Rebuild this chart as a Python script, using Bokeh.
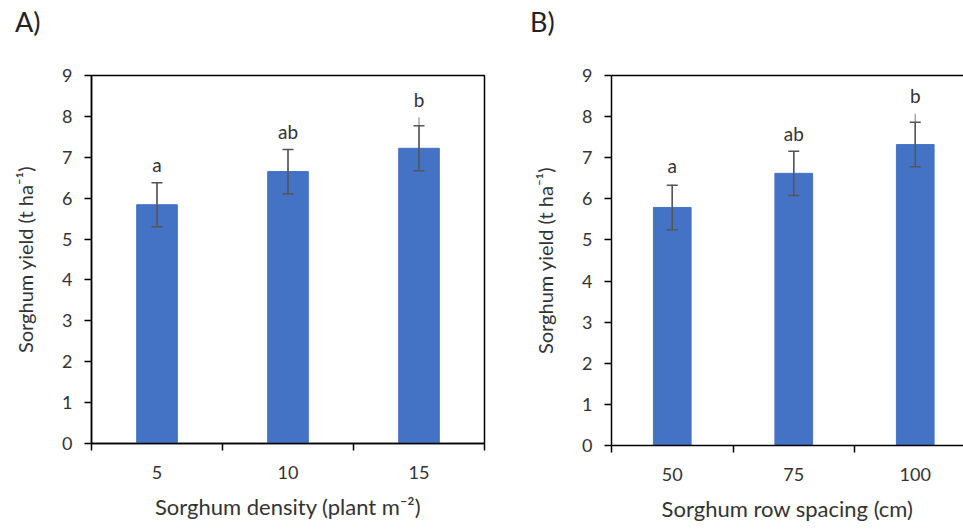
from bokeh.plotting import figure
from bokeh.models import (Range1d, FixedTicker, LinearAxis, Div, Whisker,
                          ColumnDataSource, TeeHead)
from bokeh.layouts import row, column
from bokeh.core.properties import value
from bokeh.embed import file_html
from bokeh.resources import INLINE

# ---- data ----
density_cats = ["5", "10", "15"]
density_yield = [5.84, 6.65, 7.22]
density_se = [0.54, 0.54, 0.55]
density_stem_top = [6.38, 7.19, 7.97]

spacing_cats = ["50", "75", "100"]
spacing_yield = [5.79, 6.62, 7.32]
spacing_se = [0.54, 0.54, 0.54]
spacing_stem_top = [6.35, 7.15, 8.07]

letters = ["a", "ab", "b"]
y_ticks = [0, 1, 2, 3, 4, 5, 6, 7, 8, 9]

FONT = "Lato"
TXT = "#333333"
BAR = "#4472C4"
LETTER_GAP = 0.45  # gap between stem top and letter, in axis units
HEAD_H = 44


def panel(cats, means, ses, stems, xlabel, tag, width, bl, br, bb, xmax, outline, tag_pad):
    n = len(cats)
    xs = [i + 0.5 for i in range(n)]
    src = ColumnDataSource(dict(
        x=xs, top=means,
        upper=[m + s for m, s in zip(means, ses)],
        lower=[m - s for m, s in zip(means, ses)],
        stem=stems, ly=[s + LETTER_GAP for s in stems], letter=letters))
    p = figure(width=width, height=529 - HEAD_H, output_backend="svg",
               toolbar_location=None,
               x_range=Range1d(0, xmax), y_range=Range1d(0, 9),
               min_border_left=bl, min_border_right=br, min_border_top=75 - HEAD_H,
               min_border_bottom=bb)
    p.xgrid.visible = False
    p.ygrid.visible = False
    p.background_fill_color = "white"
    p.border_fill_color = "white"
    xa = p.below[0]
    ya = p.left[0]
    if outline:
        p.outline_line_color = "black"
        p.outline_line_width = 1.5
    else:
        p.outline_line_color = None
        top = LinearAxis(ticker=FixedTicker(ticks=[]), major_label_text_font_size="0px",
                         axis_line_color="black", axis_line_width=1.5,
                         major_tick_line_color=None, minor_tick_line_color=None)
        p.add_layout(top, "above")

    p.vbar(x="x", top="top", width=0.31, source=src, fill_color=BAR, line_color=BAR)
    p.segment(x0="x", y0="top", x1="x", y1="stem", source=src,
              line_color="#a6a6a6", line_width=1.5)
    w = Whisker(source=src, base="x", upper="upper", lower="lower",
                line_color="#555555", line_width=1.5, level="overlay",
                upper_head=TeeHead(size=11, line_color="#555555", line_width=1.5),
                lower_head=TeeHead(size=11, line_color="#555555", line_width=1.5))
    p.add_layout(w)
    p.text(x="x", y="ly", text="letter", source=src, text_align="center",
           text_baseline="alphabetic", text_font=value(FONT),
           text_font_size="19px", text_color=TXT)

    xa.ticker = FixedTicker(ticks=xs, minor_ticks=list(range(n + 1)))
    xa.major_label_overrides = {x: c for x, c in zip(xs, cats)}
    xa.major_tick_line_color = None
    xa.major_tick_out = 0
    xa.major_tick_in = 0
    xa.minor_tick_line_color = "black"
    xa.minor_tick_line_width = 1.5
    xa.minor_tick_out = 7
    xa.minor_tick_in = 0
    xa.axis_line_color = "black"
    xa.axis_line_width = 1.5
    xa.major_label_standoff = 15
    xa.major_label_text_font = FONT
    xa.major_label_text_font_size = "18px"
    xa.major_label_text_color = TXT
    xa.axis_label = xlabel
    xa.axis_label_standoff = 11
    xa.axis_label_text_font = FONT
    xa.axis_label_text_font_size = "22px"
    xa.axis_label_text_font_style = "normal"
    xa.axis_label_text_color = TXT

    ya.ticker = FixedTicker(ticks=y_ticks)
    ya.major_tick_out = 7
    ya.major_tick_in = 0
    ya.major_tick_line_color = "black"
    ya.major_tick_line_width = 1.5
    ya.minor_tick_line_color = None
    ya.axis_line_color = "black"
    ya.axis_line_width = 1.5
    ya.major_label_standoff = 12
    ya.major_label_text_font = FONT
    ya.major_label_text_font_size = "18px"
    ya.major_label_text_color = TXT
    ya.axis_label = "Sorghum yield (t ha\u207b\u00b9)"
    ya.axis_label_standoff = 22
    ya.axis_label_text_font = FONT
    ya.axis_label_text_font_size = "20px"
    ya.axis_label_text_font_style = "normal"
    ya.axis_label_text_color = TXT

    head = Div(text=tag, width=width, height=HEAD_H,
               styles={"font-family": FONT, "font-size": "27px", "color": "#222222",
                       "padding-left": f"{tag_pad}px", "padding-top": "7px",
                       "line-height": "1.1", "box-sizing": "border-box",
                       "margin": "0"})
    return column(head, p, spacing=0)


pa = panel(density_cats, density_yield, density_se, density_stem_top,
           "Sorghum density (plant m\u207b\u00b2)", "A)", 486, 91, 2, 86, 3.0, True, 15)
pb = panel(spacing_cats, spacing_yield, spacing_se, spacing_stem_top,
           "Sorghum row spacing (cm)", "B)", 477, 125, 0, 84, 352 / 121.5, False, 44)

layout = row(pa, pb, spacing=0)
open("out.html", "w").write(file_html(layout, INLINE))
